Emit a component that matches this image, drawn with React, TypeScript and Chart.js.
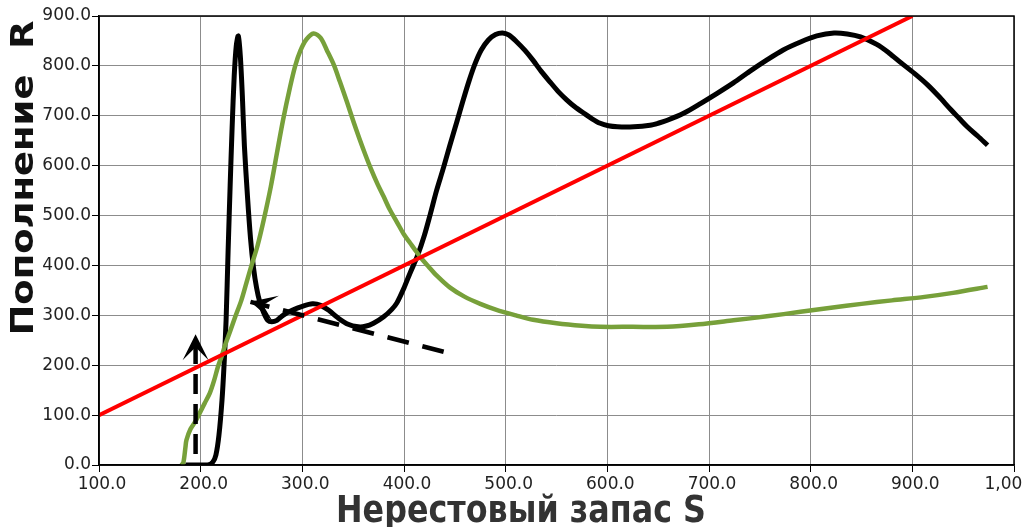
import React, { useEffect, useRef } from "react";
import { Chart, registerables } from "chart.js";

Chart.register(...registerables);

// ---- data ----
const xTickValues = [100, 200, 300, 400, 500, 600, 700, 800, 900, 1000];
const yTickValues = [0, 100, 200, 300, 400, 500, 600, 700, 800, 900];

const blackX = [185, 195, 207, 212, 215, 218, 221, 223, 225, 227, 229, 231, 233, 235, 237, 239, 241, 243, 246, 249, 252, 255, 258, 262, 266, 270, 275, 281, 290, 300, 310, 318, 326, 335, 345, 355, 362, 370, 380, 388, 393, 400, 406, 413, 420, 426, 432, 439, 445, 452, 458, 464, 470, 476, 483, 490, 497, 503, 511, 519, 527, 535, 544, 552, 560, 568, 577, 585, 593, 601, 610, 626, 642, 650, 659, 675, 692, 708, 724, 740, 757, 773, 790, 806, 823, 836, 849, 865, 877, 889, 902, 915, 926, 938, 946, 954, 964, 974];
const blackY = [0, 0, 0, 6, 20, 60, 130, 200, 290, 430, 560, 680, 780, 840, 860, 820, 740, 640, 540, 455, 395, 355, 328, 305, 290, 287, 290, 300, 310, 318, 323, 320, 310, 295, 282, 277, 278, 284, 297, 312, 325, 355, 385, 418, 460, 504, 550, 597, 640, 688, 730, 770, 805, 832, 852, 863, 866, 862, 848, 831, 811, 789, 767, 748, 732, 718, 705, 694, 685, 680, 678, 678, 681, 685, 691, 705, 725, 745, 766, 789, 812, 832, 848, 860, 866, 864, 858, 843, 826, 806, 785, 762, 739, 712, 695, 678, 660, 641];

const greenX = [181, 183, 185, 186, 190, 195, 199, 204, 209, 213, 217, 221, 224, 229, 234, 240, 245, 250, 256, 262, 269, 275, 281, 288, 293, 298, 304, 311, 318, 324, 331, 337, 344, 350, 356, 362, 368, 374, 380, 386, 393, 400, 406, 412, 418, 424, 432, 445, 459, 475, 491, 510, 527, 550, 575, 593, 625, 659, 690, 724, 757, 790, 820, 850, 880, 912, 940, 974];
const greenY = [0, 5, 35, 50, 72, 88, 104, 124, 144, 168, 197, 220, 240, 268, 297, 330, 365, 400, 440, 491, 558, 625, 691, 758, 800, 830, 853, 865, 856, 832, 802, 768, 727, 690, 655, 622, 591, 563, 538, 512, 487, 462, 445, 428, 412, 398, 380, 356, 338, 323, 311, 300, 291, 284, 279, 277, 277, 277, 282, 290, 298, 307, 315, 323, 330, 337, 345, 357];

const redX = [100, 900];
const redY = [100, 900];

const arrowUpX = [195, 195];
const arrowUpY = [22, 262];
const arrowLeftX = [439, 249];
const arrowLeftY = [227, 327];

const xTitle = "Нерестовый запас S";
const yTitle = "Пополнение  R";

function pts(xs: number[], ys: number[]) {
  return xs.map((x, i) => ({ x, y: ys[i] }));
}

const arrowHeadPlugin = {
  id: "arrowHeads",
  afterDatasetsDraw(chart: any) {
    const ctx = chart.ctx;
    const xs = chart.scales.x;
    const ys = chart.scales.y;
    chart.data.datasets.forEach((ds: any) => {
      if (!ds.isArrow) return;
      const d = ds.data;
      const a = d[d.length - 2];
      const b = d[d.length - 1];
      const ax = xs.getPixelForValue(a.x), ay = ys.getPixelForValue(a.y);
      const bx = xs.getPixelForValue(b.x), by = ys.getPixelForValue(b.y);
      const len = Math.hypot(bx - ax, by - ay);
      const ux = (bx - ax) / len, uy = (by - ay) / len;
      const px = -uy, py = ux;
      const L = 26, W = 13, N = 13;
      ctx.save();
      ctx.fillStyle = "#000";
      ctx.beginPath();
      ctx.moveTo(bx, by);
      ctx.lineTo(bx - ux * L + px * W, by - uy * L + py * W);
      ctx.lineTo(bx - ux * N, by - uy * N);
      ctx.lineTo(bx - ux * L - px * W, by - uy * L - py * W);
      ctx.closePath();
      ctx.fill();
      ctx.restore();
    });
  },
};

const frameAndTitles = {
  id: "frameAndTitles",
  afterDraw(chart: any) {
    const ctx = chart.ctx;
    const a = chart.chartArea;
    ctx.save();
    ctx.strokeStyle = "#000";
    ctx.lineWidth = 1.5;
    ctx.strokeRect(a.left, a.top, a.right - a.left, a.bottom - a.top);
    ctx.restore();

    // x title
    ctx.save();
    ctx.font = "bold 30px 'DejaVu Sans'";
    ctx.fillStyle = "#333";
    ctx.textAlign = "center";
    ctx.textBaseline = "alphabetic";
    const wX = ctx.measureText(xTitle).width;
    ctx.translate(521, 522);
    ctx.scale(370 / wX, 1.22);
    ctx.fillText(xTitle, 0, 0);
    ctx.restore();

    // y title
    ctx.save();
    ctx.font = "bold 30px 'DejaVu Sans'";
    ctx.fillStyle = "#111";
    ctx.textAlign = "center";
    ctx.textBaseline = "alphabetic";
    const wY = ctx.measureText(yTitle).width;
    ctx.translate(33, 178);
    ctx.rotate(-Math.PI / 2);
    ctx.scale(315 / wY, 1.05);
    ctx.fillText(yTitle, 0, 0);
    ctx.restore();
  },
};

export default function App() {
  const ref = useRef<HTMLCanvasElement | null>(null);
  useEffect(() => {
    if (!ref.current) return;
    const chart = new Chart(ref.current, {
      type: "line",
      data: {
        datasets: [
          {
            data: pts(arrowUpX, arrowUpY),
            borderColor: "#000",
            borderWidth: 4.5,
            borderDash: [20, 10],
            pointRadius: 0,
            tension: 0,
            isArrow: true,
          } as any,
          {
            data: pts(arrowLeftX, arrowLeftY),
            borderColor: "#000",
            borderWidth: 4.5,
            borderDash: [22, 14],
            pointRadius: 0,
            tension: 0,
            isArrow: true,
          } as any,
          {
            data: pts(redX, redY),
            borderColor: "#ff0000",
            borderWidth: 4,
            pointRadius: 0,
            tension: 0,
          },
          {
            data: pts(greenX, greenY),
            borderColor: "#77a03a",
            borderWidth: 4.5,
            pointRadius: 0,
            tension: 0.3,
          },
          {
            data: pts(blackX, blackY),
            borderColor: "#000",
            borderWidth: 5,
            pointRadius: 0,
            tension: 0.3,
          },
        ],
      },
      options: {
        animation: false,
        responsive: false,
        layout: { padding: { top: 16, right: 8, left: 0, bottom: 0 } },
        plugins: { legend: { display: false }, tooltip: { enabled: false }, title: { display: false } },
        scales: {
          x: {
            type: "linear",
            min: 100,
            max: 1000,
            afterBuildTicks: (s: any) => {
              s.ticks = xTickValues.map((v) => ({ value: v }));
            },
            afterFit: (s: any) => {
              s.height = 62;
              s.paddingLeft = 0;
              s.paddingRight = 0;
            },
            ticks: {
              autoSkip: false,
              maxRotation: 0,
              padding: 2,
              labelOffset: 3,
              color: "#222",
              font: { family: "'DejaVu Sans'", size: 17 },
              callback: (v: any) =>
                Number(v).toLocaleString("en-US", { minimumFractionDigits: 1, maximumFractionDigits: 1 }),
            },
            grid: { color: "#8c8c8c", lineWidth: 1, tickLength: 7, tickColor: "#000" },
            border: { color: "#000", width: 1.5 },
          },
          y: {
            type: "linear",
            min: 0,
            max: 900,
            afterBuildTicks: (s: any) => {
              s.ticks = yTickValues.map((v) => ({ value: v }));
            },
            afterFit: (s: any) => {
              s.width = 99;
              s.paddingTop = 0;
              s.paddingBottom = 0;
            },
            ticks: {
              autoSkip: false,
              padding: 1,
              color: "#222",
              font: { family: "'DejaVu Sans'", size: 17 },
              callback: (v: any) => Number(v).toFixed(1),
            },
            grid: { color: "#8c8c8c", lineWidth: 1, tickLength: 7, tickColor: "#000" },
            border: { color: "#000", width: 1.5 },
          },
        },
      },
      plugins: [arrowHeadPlugin, frameAndTitles],
    } as any);
    return () => chart.destroy();
  }, []);
  return (
    <div style={{ position: "fixed", left: 0, top: 0, width: 1022, height: 527, background: "#fff" }}>
      <canvas ref={ref} width={1022} height={527} style={{ display: "block" }} />
    </div>
  );
}
